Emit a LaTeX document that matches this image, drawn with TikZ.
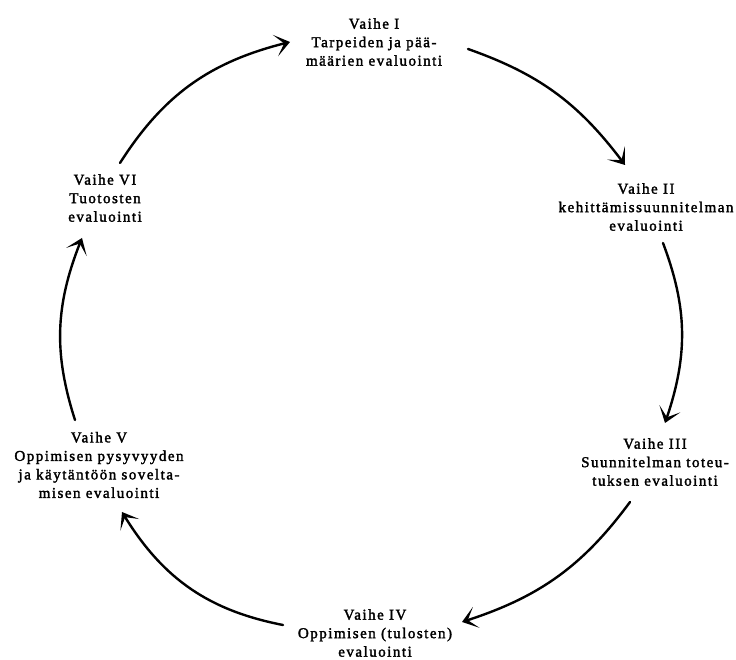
\documentclass[tikz,border=0pt]{standalone}
\usepackage{fontspec}
\setmainfont{Liberation Serif}[LetterSpace=10,FakeBold=2]
\usetikzlibrary{arrows.meta,bending}

\tikzset{
  phase/.style={align=center, inner sep=0pt,
    font=\fontsize{15}{18.5}\selectfont},
  cycle/.style={line width=2.4pt, line cap=round,
    -{Stealth[length=15pt,width=22pt,inset=9pt,flex]}},
}

\begin{document}
\begin{tikzpicture}[x=1pt,y=1pt]
  \useasboundingbox (0,0) rectangle (736,660);

  % phase labels
  \node[phase] (p1) at (374,618) {Vaihe I\\Tarpeiden ja pää-\\määrien evaluointi};
  \node[phase] (p2) at (646,453) {Vaihe II\\kehittämissuunnitelman\\evaluointi};
  \node[phase] (p3) at (655,198) {Vaihe III\\Suunnitelman toteu-\\tuksen evaluointi};
  \node[phase] (p4) at (375,27) {Vaihe IV\\Oppimisen (tulosten)\\evaluointi};
  \node[phase] (p5) at (99,195) {Vaihe V\\Oppimisen pysyvyyden\\ja käytäntöön sovelta-\\misen evaluointi};
  \node[phase] (p6) at (105,462) {Vaihe VI\\Tuotosten\\evaluointi};

  % arrow ends
  \coordinate (a1s) at (120,497); \coordinate (a1e) at (290,618);
  \coordinate (a2s) at (468,611); \coordinate (a2e) at (625,495);
  \coordinate (a3s) at (663,417); \coordinate (a3e) at (665,237);
  \coordinate (a4s) at (630,158); \coordinate (a4e) at (462,38);
  \coordinate (a5s) at (283,35);  \coordinate (a5e) at (122,148);
  \coordinate (a6s) at (75,240);  \coordinate (a6e) at (82,422);

  % the cycle of phases
  \draw[cycle] (a1s) to[bend left=22] (a1e);
  \draw[cycle] (a2s) to[bend left=17] (a2e);
  \draw[cycle] (a3s) to[bend left=20] (a3e);
  \draw[cycle] (a4s) to[bend left=18] (a4e);
  \draw[cycle] (a5s) to[bend left=24] (a5e);
  \draw[cycle] (a6s) to[bend left=20] (a6e);
\end{tikzpicture}
\end{document}
